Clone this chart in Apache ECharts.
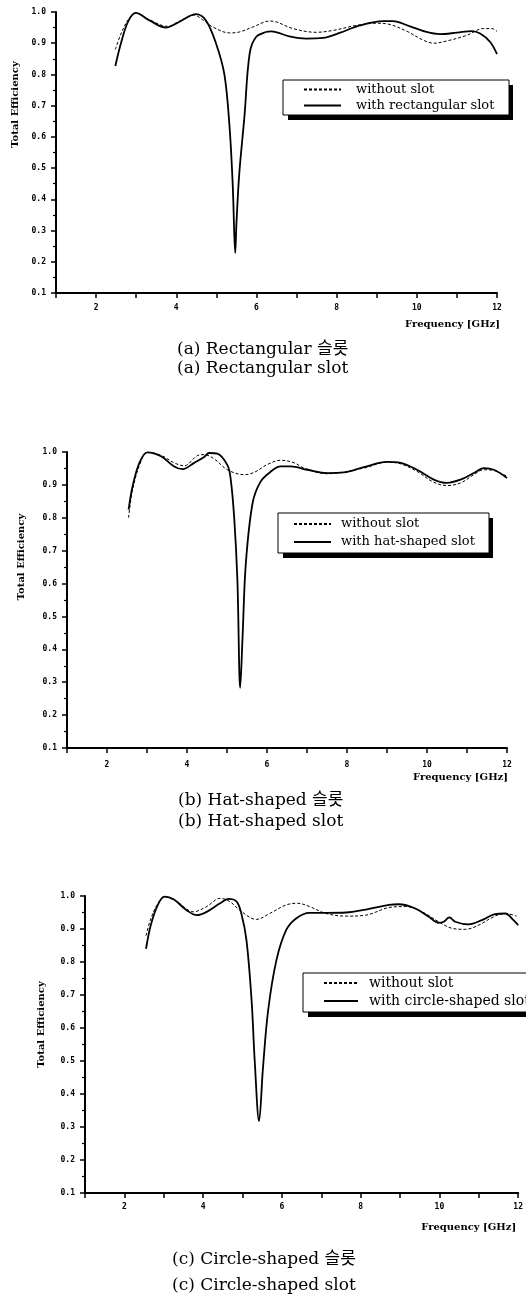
<!DOCTYPE html>
<html>
<head>
<meta charset="utf-8">
<script src="https://cdn.jsdelivr.net/npm/echarts@6/dist/echarts.min.js"></script>
<style>
html,body{margin:0;padding:0;background:#fff;}
#chart{width:526px;height:1308px;}
</style>
</head>
<body>
<div id="chart"></div>
<script>
// ---- data (frequency GHz, total efficiency) ----
var xTicks = [2, 4, 6, 8, 10, 12];
var yTicks = [0.1, 0.2, 0.3, 0.4, 0.5, 0.6, 0.7, 0.8, 0.9, 1.0];
var seriesNames = ['without slot', 'with rectangular slot', 'with hat-shaped slot', 'with circle-shaped slot'];
var captionsKo = ['(a) Rectangular 슬롯', '(b) Hat-shaped 슬롯', '(c) Circle-shaped 슬롯'];
var captionsEn = ['(a) Rectangular slot', '(b) Hat-shaped slot', '(c) Circle-shaped slot'];

var withoutA = [[2.48,0.88],[2.62,0.93],[2.8,0.975],[2.99,0.997],[3.33,0.975],[3.78,0.954],[4.07,0.97],[4.45,0.99],[4.66,0.975],[4.91,0.952],[5.33,0.933],[5.5,0.934],[5.91,0.952],[6.33,0.971],[6.5,0.968],[6.91,0.947],[7.49,0.935],[7.91,0.941],[8.49,0.957],[9.0,0.964],[9.33,0.96],[9.74,0.939],[10.16,0.91],[10.42,0.90],[10.74,0.907],[11.24,0.925],[11.66,0.947],[11.87,0.947],[12.0,0.938]];
var withRect = [[2.48,0.827],[2.62,0.90],[2.8,0.97],[2.99,0.997],[3.33,0.973],[3.74,0.95],[4.07,0.968],[4.49,0.993],[4.74,0.973],[4.99,0.90],[5.2,0.80],[5.33,0.63],[5.41,0.44],[5.47,0.228],[5.5,0.32],[5.57,0.48],[5.7,0.665],[5.83,0.867],[5.99,0.92],[6.24,0.936],[6.37,0.938],[6.82,0.922],[7.24,0.915],[7.66,0.917],[8.07,0.933],[8.58,0.957],[9.16,0.971],[9.4,0.971],[9.83,0.954],[10.24,0.936],[10.58,0.929],[11.0,0.934],[11.37,0.939],[11.58,0.931],[11.83,0.904],[12.0,0.865]];

var withoutB = [[2.54,0.80],[2.64,0.886],[2.85,0.972],[3.01,0.999],[3.35,0.99],[3.68,0.967],[3.93,0.958],[4.26,0.989],[4.43,0.992],[4.68,0.979],[5.01,0.946],[5.43,0.931],[5.68,0.938],[6.01,0.962],[6.34,0.975],[6.68,0.967],[6.93,0.951],[7.51,0.934],[8.42,0.951],[9.0,0.969],[9.34,0.964],[9.75,0.941],[10.17,0.908],[10.5,0.898],[10.84,0.906],[11.17,0.931],[11.42,0.946],[11.67,0.944],[12.0,0.926]];
var withHat = [[2.54,0.825],[2.64,0.896],[2.81,0.967],[3.01,0.999],[3.35,0.987],[3.68,0.956],[3.89,0.948],[4.18,0.967],[4.43,0.985],[4.55,0.997],[4.76,0.995],[5.01,0.96],[5.09,0.92],[5.18,0.80],[5.26,0.61],[5.33,0.283],[5.39,0.44],[5.47,0.66],[5.64,0.845],[5.84,0.91],[6.09,0.94],[6.34,0.956],[6.59,0.956],[7.01,0.946],[7.51,0.936],[7.92,0.938],[8.42,0.954],[9.0,0.97],[9.34,0.967],[9.75,0.946],[10.17,0.916],[10.5,0.906],[10.84,0.916],[11.17,0.936],[11.42,0.951],[11.67,0.946],[12.0,0.921]];

var withoutC = [[2.55,0.88],[2.66,0.927],[2.83,0.973],[3.02,0.998],[3.33,0.983],[3.75,0.952],[4.09,0.968],[4.43,0.993],[4.68,0.983],[4.93,0.957],[5.35,0.929],[5.69,0.947],[6.11,0.973],[6.4,0.978],[6.7,0.968],[7.12,0.947],[7.63,0.939],[8.13,0.942],[8.72,0.965],[9.14,0.968],[9.56,0.952],[9.98,0.922],[10.32,0.902],[10.66,0.899],[11.0,0.912],[11.41,0.939],[11.67,0.947],[11.96,0.939]];
var withCircle = [[2.55,0.84],[2.66,0.907],[2.83,0.968],[3.02,0.998],[3.25,0.99],[3.58,0.957],[3.84,0.942],[4.09,0.952],[4.43,0.978],[4.64,0.991],[4.85,0.983],[4.97,0.947],[5.1,0.866],[5.23,0.684],[5.31,0.50],[5.42,0.318],[5.52,0.48],[5.65,0.653],[5.86,0.805],[6.11,0.897],[6.36,0.932],[6.7,0.949],[7.12,0.949],[7.63,0.95],[8.13,0.959],[8.72,0.973],[8.97,0.975],[9.39,0.962],[9.73,0.937],[9.98,0.919],[10.11,0.922],[10.25,0.935],[10.4,0.922],[10.74,0.914],[11.08,0.927],[11.41,0.945],[11.67,0.947],[11.88,0.927],[12.0,0.912]];

// ---- layout ----
var grids = [
  {left: 56, top: 12, width: 441, height: 281},
  {left: 67, top: 452, width: 440, height: 296},
  {left: 85, top: 896, width: 435, height: 297}
];
var yNameGap = [34, 41, 39];
var yNameShift = [96, 86, 40];
var xNameGap = [3, 1, -2];
var xNamePad = [26, 24, 29];
var xLabelMargin = [11, 13, 10];
var legendPos = [
  {left: 283, top: 80, pad: [2, 8, 2, 20], iw: 37, gap: 1, lh: 15, fs: 13, tw: 145, tp: 10, bw: 225, bh: 35},
  {left: 278, top: 513, pad: [3, 8, 3, 15], iw: 37, gap: 2, lh: 16, fs: 13, tw: 140, tp: 5, bw: 210, bh: 40},
  {left: 303, top: 973, pad: [2, 8, 3, 20], iw: 34, gap: 2, lh: 16, fs: 14, tw: 180, tp: 6, bw: 253, bh: 39}
];
var captionPos = [
  {left: 177, top1: 341, top2: 360},
  {left: 178, top1: 792, top2: 813},
  {left: 172, top1: 1251, top2: 1277}
];

var panelData = [[withoutA, withRect], [withoutB, withHat], [withoutC, withCircle]];

var xAxes = [], yAxes = [], series = [], legends = [], titles = [], shadows = [];
for (var i = 0; i < 3; i++) {
  xAxes.push({
    type: 'value', gridIndex: i, min: 1, max: 12, interval: 1,
    name: 'Frequency [GHz]', nameLocation: 'end', nameGap: xNameGap[i],
    nameTextStyle: {fontFamily: 'DejaVu Serif', fontWeight: 'bold', fontSize: 10, color: '#000',
      align: 'right', verticalAlign: 'top', padding: [xNamePad[i], 0, 0, 0]},
    axisLine: {show: true, lineStyle: {color: '#000', width: 2}},
    axisTick: {show: true, length: 5, lineStyle: {color: '#000', width: 1.5}},
    axisLabel: {margin: xLabelMargin[i], fontFamily: 'DejaVu Sans Mono', fontWeight: 'bold', fontSize: 8, color: '#000',
      formatter: function (v) { return xTicks.indexOf(v) >= 0 ? String(v) : ''; }},
    splitLine: {show: false}
  });
  yAxes.push({
    type: 'value', gridIndex: i, min: 0.1, max: 1.0, interval: 0.1,
    name: 'Total Efficiency', nameLocation: 'middle', nameGap: yNameGap[i],
    nameTextStyle: {fontFamily: 'DejaVu Serif', fontWeight: 'bold', fontSize: 10, color: '#000',
      padding: [0, 0, 0, yNameShift[i]]},
    axisLine: {show: true, lineStyle: {color: '#000', width: 2}},
    axisTick: {show: true, length: 5, lineStyle: {color: '#000', width: 1.5}},
    minorTick: {show: true, splitNumber: 2, length: 3, lineStyle: {color: '#000', width: 1.2}},
    axisLabel: {margin: 10, fontFamily: 'DejaVu Sans Mono', fontWeight: 'bold', fontSize: 8, color: '#000',
      formatter: function (v) { return v.toFixed(1); }},
    splitLine: {show: false}
  });
  series.push({
    name: seriesNames[0], type: 'line', xAxisIndex: i, yAxisIndex: i,
    data: panelData[i][0], symbol: 'none', smooth: 0.35, z: 2,
    lineStyle: {color: '#000', width: 1, type: [3, 2]}, itemStyle: {color: '#000'}
  });
  series.push({
    name: seriesNames[i + 1], type: 'line', xAxisIndex: i, yAxisIndex: i,
    data: panelData[i][1], symbol: 'none', smooth: 0.35, z: 3,
    lineStyle: {color: '#000', width: 1.8, type: 'solid'}, itemStyle: {color: '#000'}
  });
  var L = legendPos[i];
  legends.push({
    data: [seriesNames[0], seriesNames[i + 1]], orient: 'vertical', left: L.left, top: L.top,
    itemWidth: L.iw, itemHeight: 10, itemGap: L.gap, padding: L.pad, selectedMode: false,
    backgroundColor: '#fff', borderColor: '#000', borderWidth: 1, z: 10,
    itemStyle: {opacity: 0},
    textStyle: {fontFamily: 'DejaVu Serif', fontSize: L.fs, lineHeight: L.lh, color: '#000',
      width: L.tw, padding: [0, 0, 0, L.tp]}
  });
  // drop shadow block behind legend box
  shadows.push({type: 'rect', left: L.left + 5, top: L.top + 5, z: 9,
    shape: {width: L.bw, height: L.bh}, style: {fill: '#000'}});
  var C = captionPos[i];
  titles.push({text: captionsKo[i], left: C.left, top: C.top1, padding: 0,
    textStyle: {fontFamily: 'DejaVu Serif, Noto Sans CJK KR', fontWeight: 'normal', fontSize: 17, color: '#000'}});
  titles.push({text: captionsEn[i], left: C.left, top: C.top2, padding: 0,
    textStyle: {fontFamily: 'DejaVu Serif, Noto Sans CJK KR', fontWeight: 'normal', fontSize: 17, color: '#000'}});
}

var chart = echarts.init(document.getElementById('chart'), null, {renderer: 'canvas'});
chart.setOption({
  backgroundColor: '#fff',
  animation: false,
  title: titles,
  grid: grids,
  xAxis: xAxes,
  yAxis: yAxes,
  legend: legends,
  graphic: shadows,
  series: series
});
</script>
</body>
</html>
